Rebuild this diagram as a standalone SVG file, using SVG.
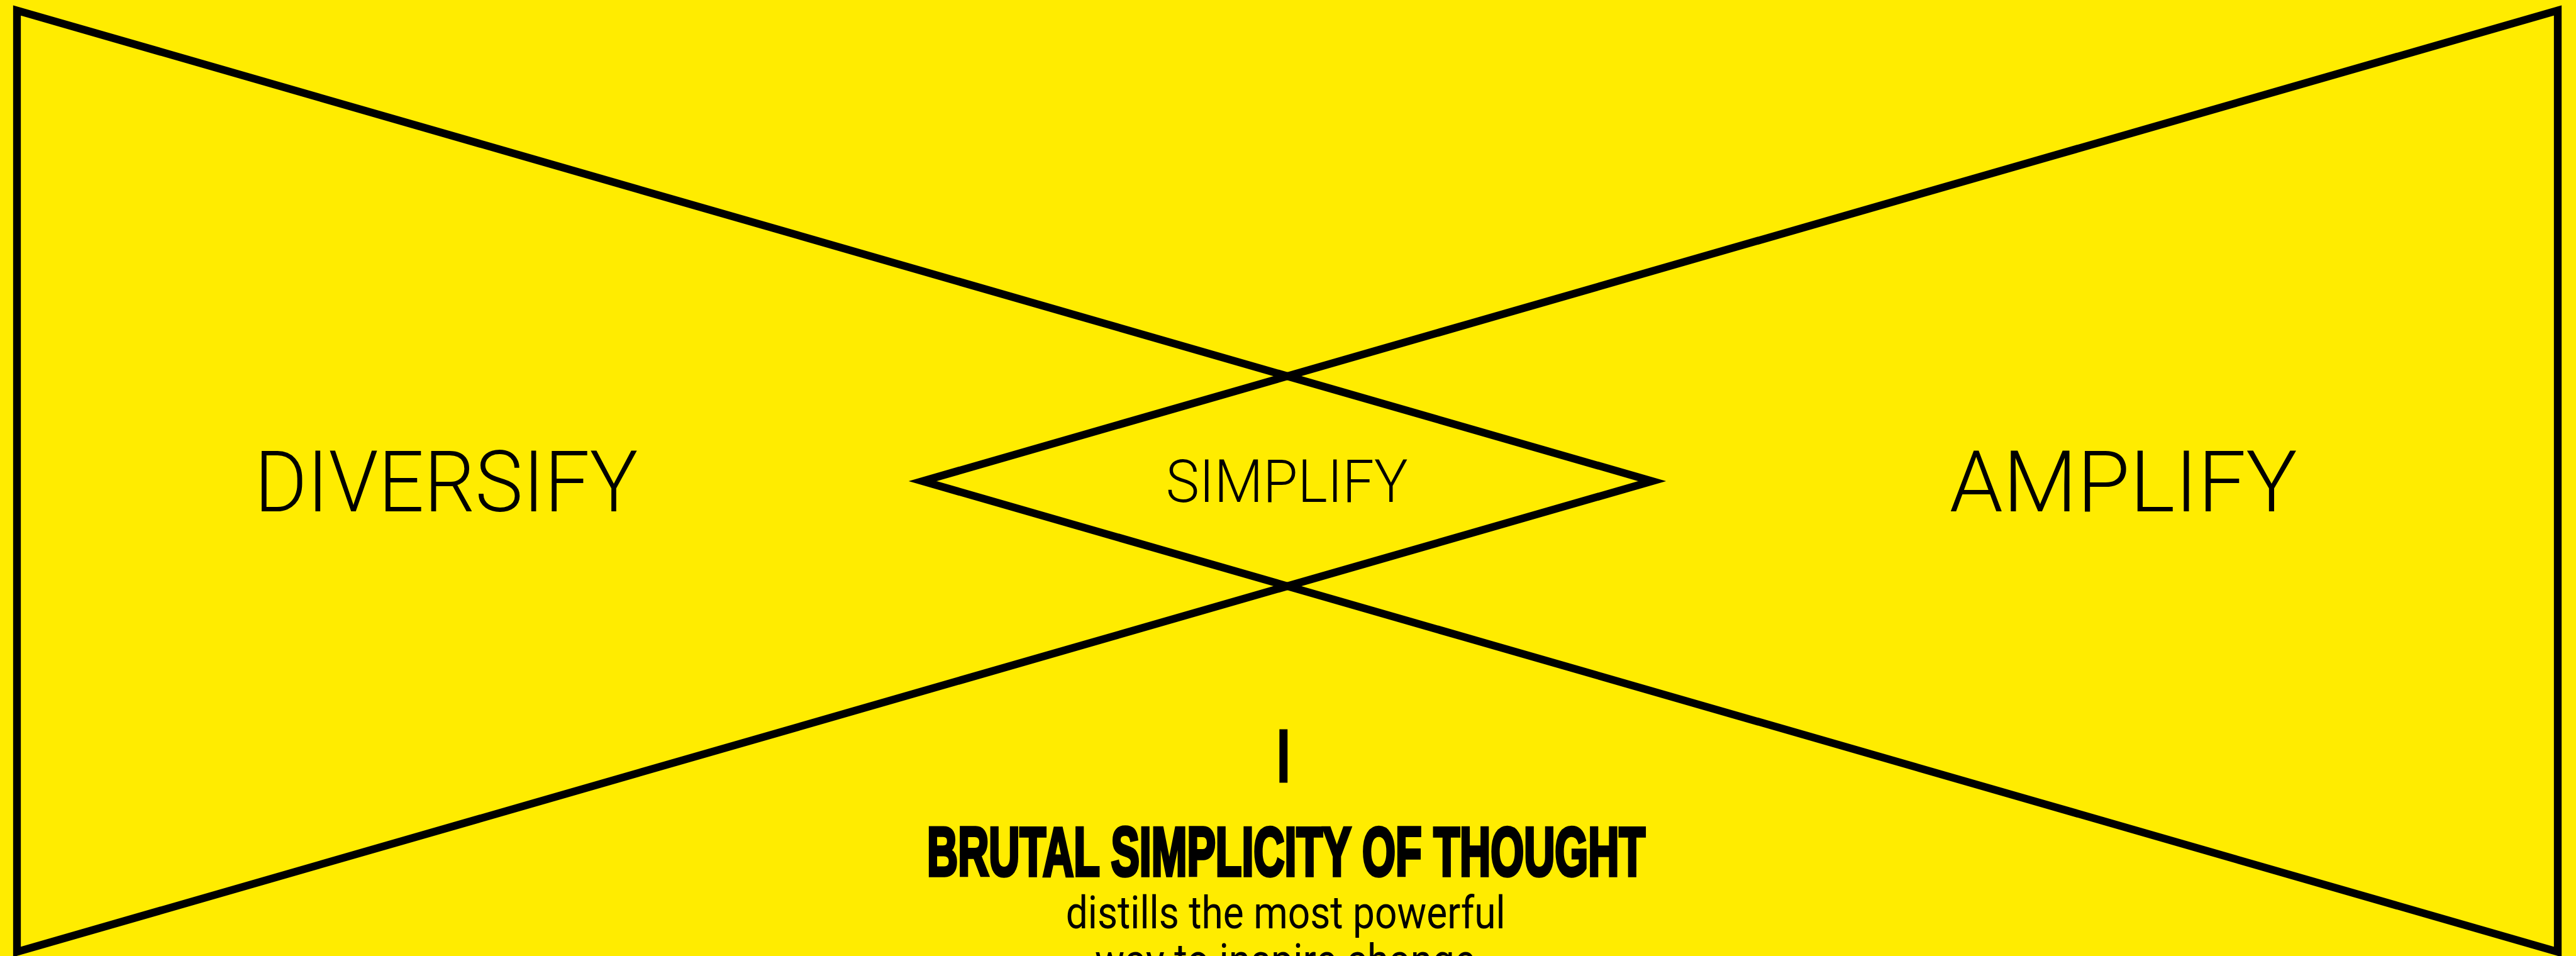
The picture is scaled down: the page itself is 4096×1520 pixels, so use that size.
<svg xmlns="http://www.w3.org/2000/svg" width="4096" height="1520" viewBox="0 0 4096 1520">
<style>
.shape{fill:none;stroke:#000;stroke-width:12.3;stroke-linejoin:miter;stroke-miterlimit:6}
.big{font-family:Roboto,"Liberation Sans",Arial,sans-serif;font-weight:300;font-size:135px;fill:#000;text-anchor:middle}
.mid{font-family:Roboto,"Liberation Sans",Arial,sans-serif;font-weight:300;font-size:95px;fill:#000;text-anchor:middle}
.head{font-family:"Liberation Sans",Arial,sans-serif;font-weight:700;font-size:110px;fill:#000;stroke:#000;stroke-width:5.5;stroke-linejoin:miter;text-anchor:middle}
.body{font-family:Roboto,"Liberation Sans",Arial,sans-serif;font-weight:400;font-size:73px;fill:#000;text-anchor:middle}
</style>
<rect x="0" y="0" width="4096" height="1520" fill="#FFEC00"/>
<g id="diversify">
<polygon class="shape" points="27,16.6 27,1513.4 2627,765"/>
<text class="big" x="709.4" y="813" textLength="610" lengthAdjust="spacingAndGlyphs">DIVERSIFY</text>
</g>
<g id="amplify">
<polygon class="shape" points="4067,16.6 4067,1513.4 1467,765"/>
<text class="big" x="3376.3" y="813" textLength="553" lengthAdjust="spacingAndGlyphs">AMPLIFY</text>
</g>
<g id="simplify">
<text class="mid" x="2046.2" y="798.3" textLength="385" lengthAdjust="spacingAndGlyphs">SIMPLIFY</text>
</g>
<g id="connectors">
<line x1="2040.8" y1="1159.6" x2="2040.8" y2="1244.4" stroke="#000" stroke-width="12.9"/>
</g>
<g id="brutal-simplicity">
<text class="head" x="2045" y="1392" textLength="1142" lengthAdjust="spacingAndGlyphs">BRUTAL SIMPLICITY OF THOUGHT</text>
<text class="body" x="2044.2" y="1475.9" textLength="699" lengthAdjust="spacingAndGlyphs">distills the most powerful</text>
<text class="body" x="2043.5" y="1552.2" textLength="605" lengthAdjust="spacingAndGlyphs">way to inspire change</text>
</g>
</svg>
